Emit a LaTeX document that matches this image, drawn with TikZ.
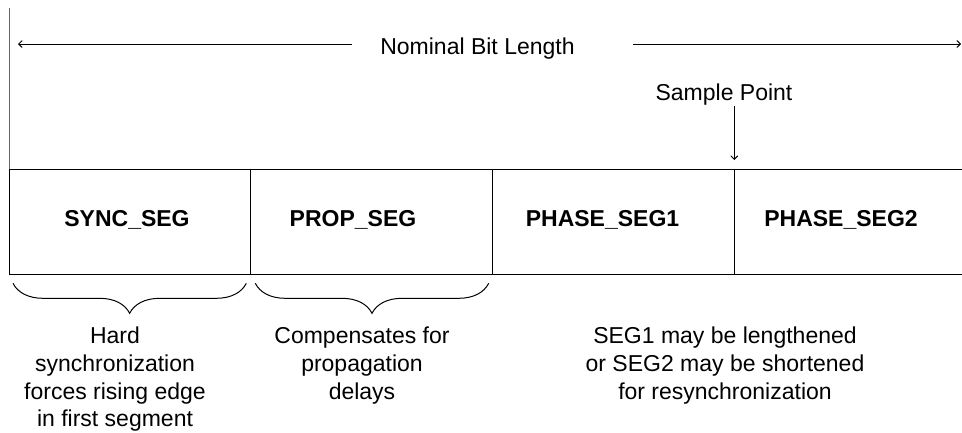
\documentclass[tikz,border=0pt]{standalone}
\usepackage{fontspec}
\setmainfont{Liberation Sans}
\usepackage{tikz}
\usetikzlibrary{arrows, decorations.pathreplacing, positioning}
\tikzset{>=angle 90}
\tikzset{
	seg/.style={draw, minimum height=105.3pt, inner sep=0pt, outer sep=0pt},
	segtext/.style={font=\fontsize{23}{27.7}\selectfont\bfseries, anchor=base},
	note/.style={align=center, anchor=base, inner sep=0pt},
	brc/.style={decorate, decoration={brace, mirror, amplitude=30pt}}
}

\begin{document}
\begin{tikzpicture}[x=1pt, y=-1pt, line width=1pt, font=\fontsize{23}{27.7}\selectfont]
	\useasboundingbox (0,0) rectangle (962,432);

	% bit time segments
	\node[seg, minimum width=241.3pt]	(sync)	at	(129.65,221.65)	{};
	\node[seg, minimum width=242.4pt]	(prop)	at	(371.5,221.65)	{};
	\node[seg, minimum width=241.6pt]	(ph1)	at	(613.5,221.65)	{};
	\node[seg, minimum width=241.7pt]	(ph2)	at	(855.15,221.65)	{};
	\node[segtext]	at	(127,226.5)	{SYNC\_SEG};
	\node[segtext]	at	(353,226.5)	{PROP\_SEG};
	\node[segtext]	at	(602.5,226.5)	{PHASE\_SEG1};
	\node[segtext]	at	(841,226.5)	{PHASE\_SEG2};

	% nominal bit length
	\node[anchor=base, inner sep=0pt]	(nbl)	at	(477.5,54)	{Nominal Bit Length};
	\coordinate	(nblL)	at	(18,44);
	\coordinate	(nblR)	at	(961,44);
	\draw[->]	(352,44) -- (nblL);
	\draw[->]	(633,44) -- (nblR);
	\draw[black!60, dash pattern=on 1.5pt off 0.5pt]	(9,8) -- (sync.north west);

	% sample point
	\node[anchor=base, inner sep=0pt]	(sp)	at	(724,100.7)	{Sample Point};
	\draw[->]	(734.3,106) -- ([yshift=9pt]ph1.north east);

	% braces and notes
	\draw[brc]	([xshift=4pt, yshift=-9pt]sync.south west) -- ([xshift=-4pt, yshift=-9pt]sync.south east);
	\draw[brc]	([xshift=5pt, yshift=-9pt]prop.south west) -- ([xshift=-4pt, yshift=-9pt]prop.south east);
	\node[note]	(hard)	at	(115,426.7)	{Hard\\synchronization\\forces rising edge\\in first segment};
	\node[note]	(comp)	at	(362,399)	{Compensates for\\propagation\\delays};
	\node[note]	(resync)	at	(725,399)	{SEG1 may be lengthened\\or SEG2 may be shortened\\for resynchronization};
\end{tikzpicture}
\end{document}
